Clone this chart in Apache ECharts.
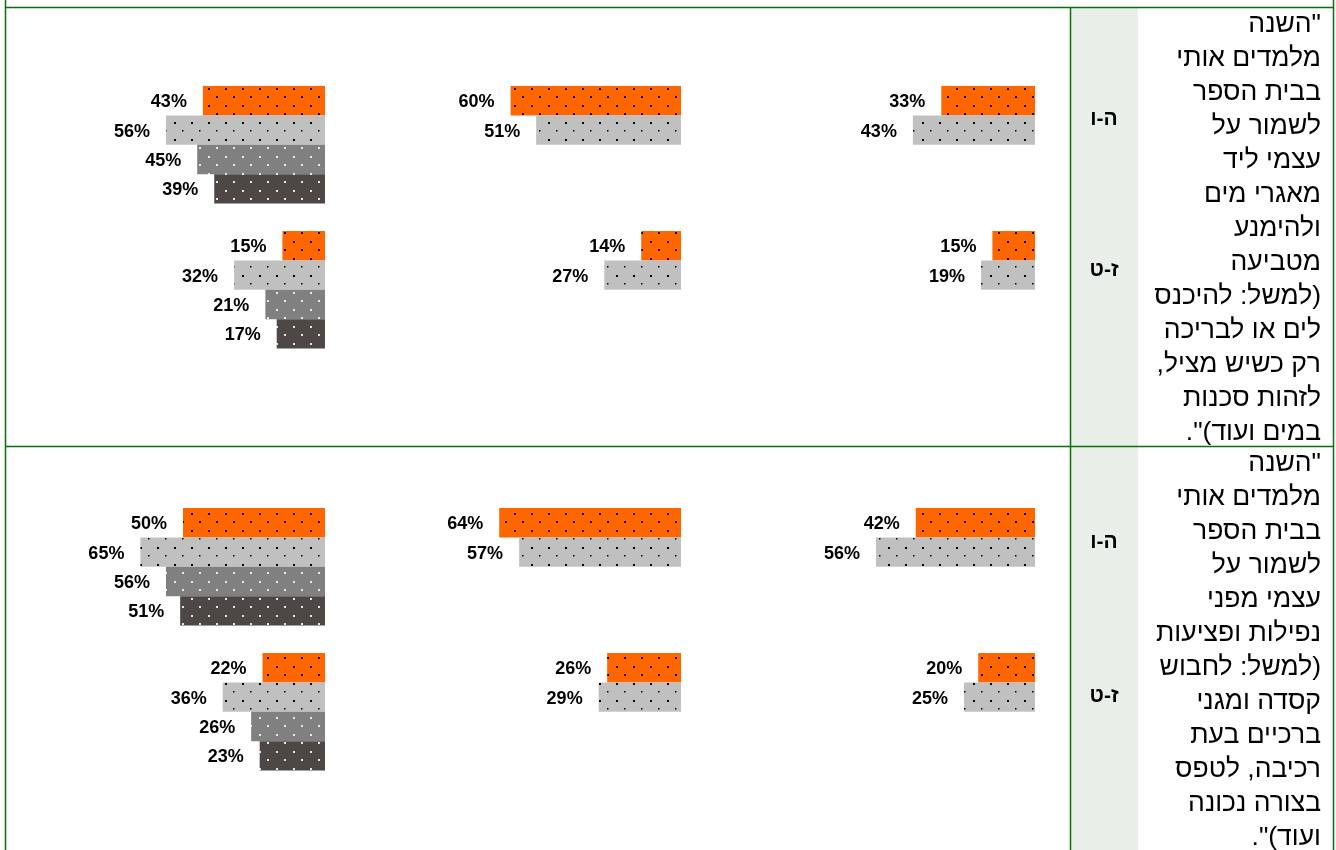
<!DOCTYPE html>
<html>
<head>
<meta charset="utf-8">
<script src="https://cdn.jsdelivr.net/npm/echarts@6/dist/echarts.min.js"></script>
<style>
html,body{margin:0;padding:0;background:#fff;}
#chart{width:1336px;height:850px;}
</style>
</head>
<body>
<div id="chart" dir="rtl"></div>
<script>
// ---------- DATA ----------
const gradeLabels = ['ה-ו', 'ז-ט'];
const questions = [
  '"השנה\nמלמדים אותי\nבבית הספר\nלשמור על\nעצמי ליד\nמאגרי מים\nולהימנע\nמטביעה\n(למשל: להיכנס\nלים או לבריכה\nרק כשיש מציל,\nלזהות סכנות\nבמים ועוד)".',
  '"השנה\nמלמדים אותי\nבבית הספר\nלשמור על\nעצמי מפני\nנפילות ופציעות\n(למשל: לחבוש\nקסדה ומגני\nברכיים בעת\nרכיבה, לטפס\nבצורה נכונה\nועוד)".'
];
const seriesKeys = ['orange', 'lightGray', 'midGray', 'darkGray'];

// question 1 (water), grades 5-6 and 7-9, three column groups
const q1_g56_col1 = [43, 56, 45, 39];
const q1_g56_col2 = [60, 51];
const q1_g56_col3 = [33, 43];
const q1_g79_col1 = [15, 32, 21, 17];
const q1_g79_col2 = [14, 27];
const q1_g79_col3 = [15, 19];
// question 2 (falls)
const q2_g56_col1 = [50, 65, 56, 51];
const q2_g56_col2 = [64, 57];
const q2_g56_col3 = [42, 56];
const q2_g79_col1 = [22, 36, 26, 23];
const q2_g79_col2 = [26, 29];
const q2_g79_col3 = [20, 25];

const cells = [
  [[q1_g56_col1, q1_g56_col2, q1_g56_col3], [q1_g79_col1, q1_g79_col2, q1_g79_col3]],
  [[q2_g56_col1, q2_g56_col2, q2_g56_col3], [q2_g79_col1, q2_g79_col2, q2_g79_col3]]
];

// ---------- STYLE / LAYOUT ----------
function makePattern(bg, dot, big, small) {
  const c = document.createElement('canvas');
  c.width = 17; c.height = 17;
  const ctx = c.getContext('2d');
  ctx.fillStyle = bg; ctx.fillRect(0, 0, 17, 17);
  ctx.fillStyle = dot;
  ctx.fillRect(4, 3, big, big);
  ctx.fillRect(12, 11, small, small);
  return { image: c, repeat: 'repeat' };
}
const patterns = {
  orange: makePattern('#FF6600', '#000000', 2, 2),
  lightGray: makePattern('#C0C0C0', '#000000', 2, 1.5),
  midGray: makePattern('#808080', '#E6E6E6', 2, 2),
  darkGray: makePattern('#4D4845', '#E6E6E6', 2, 2)
};

const colRight = [325, 681, 1035];
const pxPer100 = 284;
const barH = 29.4;
const rowTops = [[86, 231], [508, 653]];
const gradeLabelY = [[119, 270], [542, 696]];
const rowTextTop = [7, 446];
const lineColor = '#0B700B';

const grids = [], xAxes = [], yAxes = [], series = [];
let gi = 0;
cells.forEach((rowCells, r) => {
  rowCells.forEach((gradeCells, s) => {
    gradeCells.forEach((vals, c) => {
      grids.push({
        left: colRight[c] - pxPer100,
        top: rowTops[r][s],
        width: pxPer100,
        height: vals.length * barH,
        containLabel: false
      });
      xAxes.push({ gridIndex: gi, type: 'value', min: 0, max: 100, inverse: true, show: false });
      yAxes.push({ gridIndex: gi, type: 'category', inverse: true, show: false,
        data: vals.map((v, i) => seriesKeys[i]) });
      series.push({
        type: 'bar', xAxisIndex: gi, yAxisIndex: gi,
        barWidth: '100%', barCategoryGap: 0,
        silent: true, animation: false,
        data: vals.map((v, i) => ({ value: v, itemStyle: { color: patterns[seriesKeys[i]] } })),
        label: {
          show: true, position: 'left', distance: 16, offset: [0, 1.5],
          formatter: p => p.value + '%',
          fontFamily: 'Liberation Sans, Arial, sans-serif',
          fontWeight: 'bold', fontSize: 18, color: '#000'
        }
      });
      gi++;
    });
  });
});

const graphics = [];
// shaded grade column
graphics.push({ type: 'rect', shape: { x: 1071, y: 7, width: 67, height: 850 }, style: { fill: '#E8EEE8' }, silent: true, z: 0 });
// borders
const hLine = y => ({ type: 'line', shape: { x1: 5, y1: y, x2: 1333, y2: y }, style: { stroke: lineColor, lineWidth: 1.5 }, silent: true, z: 1 });
const vLine = (x, y1) => ({ type: 'line', shape: { x1: x, y1: y1, x2: x, y2: 850 }, style: { stroke: lineColor, lineWidth: 1.5 }, silent: true, z: 1 });
graphics.push(hLine(7.5), hLine(446.5), vLine(5.5, 0), vLine(1070.5, 7), vLine(1333.5, 0));
// grade labels
gradeLabelY.forEach(row => row.forEach((y, s) => {
  graphics.push({ type: 'text', x: 1104, y: y, silent: true, z: 2,
    style: { text: gradeLabels[s], align: 'center', verticalAlign: 'middle',
      font: 'bold 21px "Liberation Sans", Arial, sans-serif', fill: '#000' } });
}));
// question texts
questions.forEach((q, r) => {
  graphics.push({ type: 'text', x: 1321, y: rowTextTop[r] + 1, silent: true, z: 2,
    style: { text: q, align: 'right', verticalAlign: 'top', lineHeight: 34,
      font: '26.5px "Liberation Sans", Arial, sans-serif', fill: '#000' } });
});

const chart = echarts.init(document.getElementById('chart'), null, { renderer: 'canvas' });
chart.setOption({
  animation: false,
  grid: grids, xAxis: xAxes, yAxis: yAxes, series: series,
  graphic: graphics
});
</script>
</body>
</html>
